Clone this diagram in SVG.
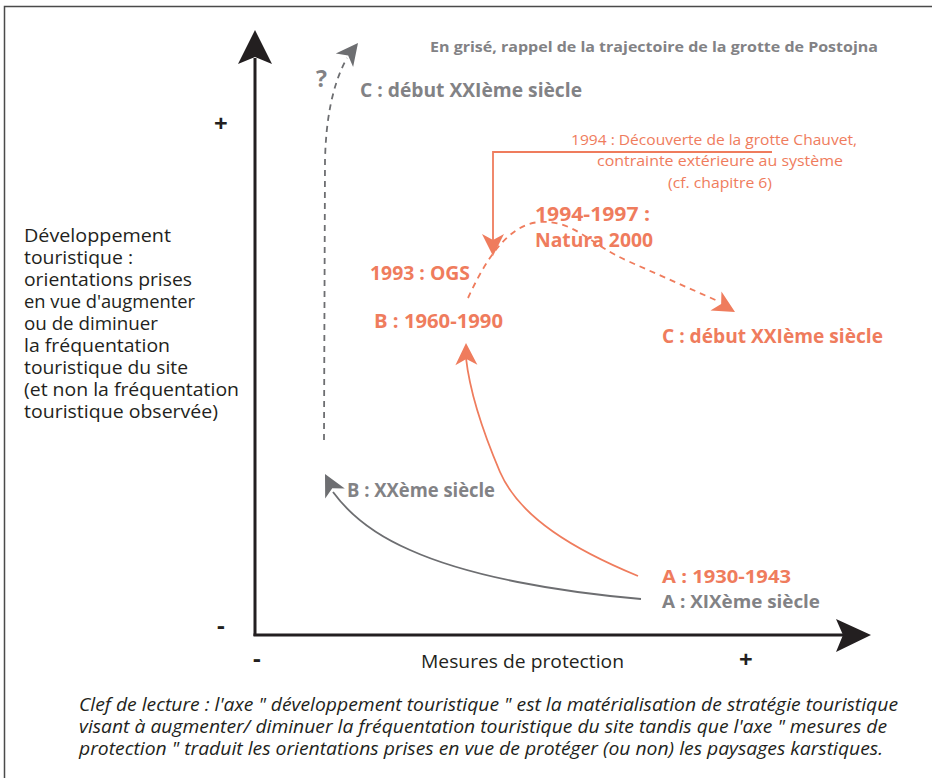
<svg xmlns="http://www.w3.org/2000/svg" width="932" height="778" viewBox="0 0 932 778">
<style>
text{font-family:"Open Sans","Liberation Sans",sans-serif}
.o{fill:#ef7c5d;font-weight:bold;font-size:20px}
.g{fill:#828285;font-weight:bold;font-size:20px}
.or{fill:#ef7c5d;font-size:15px}
.k{fill:#231f20;font-size:18px}
.it{fill:#231f20;font-size:18px;font-style:italic}
.sym{fill:#231f20;font-size:24px}
.axis{stroke:#231f20;stroke-width:3;fill:none}
.oc{stroke:#ef7c5d;stroke-width:1.8;fill:none}
.gc{stroke:#6d6e71;stroke-width:1.8;fill:none}
.dash{stroke-dasharray:6 5}
</style>
<defs>
<path id="ah" d="M0,0 L-22,-11 L-16,0 L-22,11 Z"/>
</defs>
<rect width="932" height="778" fill="#fff"/>
<path d="M4.5,778 V6.5 H932" fill="none" stroke="#4a4a4a" stroke-width="1.5"/>

<g id="axes">
<path class="axis" d="M255,636 V58"/>
<path class="axis" d="M253.5,635 H845"/>
<path d="M255,30 L238,64 L255,57 L272,64 Z" fill="#231f20"/>
<path d="M871,635 L836,619 L843,635 L836,652 Z" fill="#231f20"/>
<text class="sym" x="214" y="132" style="font-weight:bold">+</text>
<text class="sym" x="217" y="634" style="font-weight:bold">-</text>
<text class="sym" x="253" y="667" style="font-weight:bold">-</text>
<text class="sym" x="739" y="668" style="font-weight:bold">+</text>
<text class="k" x="421" y="668" textLength="203" lengthAdjust="spacingAndGlyphs">Mesures de protection</text>
</g>

<g id="y-label" class="k">
<text x="24" y="242" textLength="147" lengthAdjust="spacingAndGlyphs">Développement</text>
<text x="24" y="264" textLength="109" lengthAdjust="spacingAndGlyphs">touristique :</text>
<text x="24" y="286" textLength="168" lengthAdjust="spacingAndGlyphs">orientations prises</text>
<text x="24" y="308" textLength="171" lengthAdjust="spacingAndGlyphs">en vue d'augmenter</text>
<text x="24" y="330" textLength="134" lengthAdjust="spacingAndGlyphs">ou de diminuer</text>
<text x="24" y="352" textLength="146" lengthAdjust="spacingAndGlyphs">la fréquentation</text>
<text x="24" y="374" textLength="164" lengthAdjust="spacingAndGlyphs">touristique du site</text>
<text x="24" y="396" textLength="215" lengthAdjust="spacingAndGlyphs">(et non la fréquentation</text>
<text x="24" y="418" textLength="194" lengthAdjust="spacingAndGlyphs">touristique observée)</text>
</g>

<g id="connectors">
<path class="gc" d="M641,599 C560,592 470,577 410,550 C380,537 352,518 333,492"/>
<use href="#ah" fill="#6d6e71" transform="translate(325,474) rotate(-117)"/>
<path class="gc dash" d="M324,440 L325,160 C326,120 332,85 347,58"/>
<use href="#ah" fill="#6d6e71" transform="translate(358,43) rotate(-52)"/>
<path class="oc" d="M638,576 C575,550 520,518 500,472 C480,425 469,385 466,358"/>
<use href="#ah" fill="#ef7c5d" transform="translate(466,343) rotate(-91)"/>
<path class="oc" d="M772,152 H493 V240"/>
<use href="#ah" fill="#ef7c5d" transform="translate(493,256) rotate(90)"/>
<path class="oc dash" d="M468,298 C482,268 505,224 540,222 C575,220 590,245 630,262 L720,302"/>
<use href="#ah" fill="#ef7c5d" transform="translate(735,312) rotate(30)"/>
</g>

<g id="title">
<text class="g" x="430" y="52" style="font-size:14px" textLength="448" lengthAdjust="spacingAndGlyphs">En grisé, rappel de la trajectoire de la grotte de Postojna</text>
</g>

<g id="grey-A"><text class="g" x="662" y="608" style="font-size:18.5px" textLength="158" lengthAdjust="spacingAndGlyphs">A : XIXème siècle</text></g>
<g id="grey-B"><text class="g" x="347" y="497" textLength="148" lengthAdjust="spacingAndGlyphs">B : XXème siècle</text></g>
<g id="grey-C">
<text class="g" x="316" y="87" style="font-size:23px">?</text>
<text class="g" x="360" y="97" textLength="222" lengthAdjust="spacingAndGlyphs">C : début XXIème siècle</text>
</g>

<g id="orange-A"><text class="o" x="662" y="583" style="font-size:18.5px" textLength="129" lengthAdjust="spacingAndGlyphs">A : 1930-1943</text></g>
<g id="orange-B"><text class="o" x="374" y="328" textLength="129" lengthAdjust="spacingAndGlyphs">B : 1960-1990</text></g>
<g id="orange-OGS"><text class="o" x="370" y="280" textLength="100" lengthAdjust="spacingAndGlyphs">1993 : OGS</text></g>
<g id="orange-natura">
<text class="o" x="535" y="221" textLength="115" lengthAdjust="spacingAndGlyphs">1994-1997 :</text>
<text class="o" x="535" y="247" textLength="118" lengthAdjust="spacingAndGlyphs">Natura 2000</text>
</g>
<g id="orange-C"><text class="o" x="662" y="343" textLength="221" lengthAdjust="spacingAndGlyphs">C : début XXIème siècle</text></g>
<g id="chauvet" class="or">
<text x="571" y="145" textLength="286" lengthAdjust="spacingAndGlyphs">1994 : Découverte de la grotte Chauvet,</text>
<text x="597" y="166" textLength="246" lengthAdjust="spacingAndGlyphs">contrainte extérieure au système</text>
<text x="668" y="188" textLength="104" lengthAdjust="spacingAndGlyphs">(cf. chapitre 6)</text>
</g>

<g id="legend" class="it">
<text x="79" y="711" textLength="819" lengthAdjust="spacingAndGlyphs">Clef de lecture : l'axe " développement touristique " est la matérialisation de stratégie touristique</text>
<text x="79" y="733" textLength="808" lengthAdjust="spacingAndGlyphs">visant à augmenter/ diminuer la fréquentation touristique du site tandis que l'axe " mesures de</text>
<text x="79" y="755" textLength="804" lengthAdjust="spacingAndGlyphs">protection " traduit les orientations prises en vue de protéger (ou non) les paysages karstiques.</text>
</g>
</svg>
